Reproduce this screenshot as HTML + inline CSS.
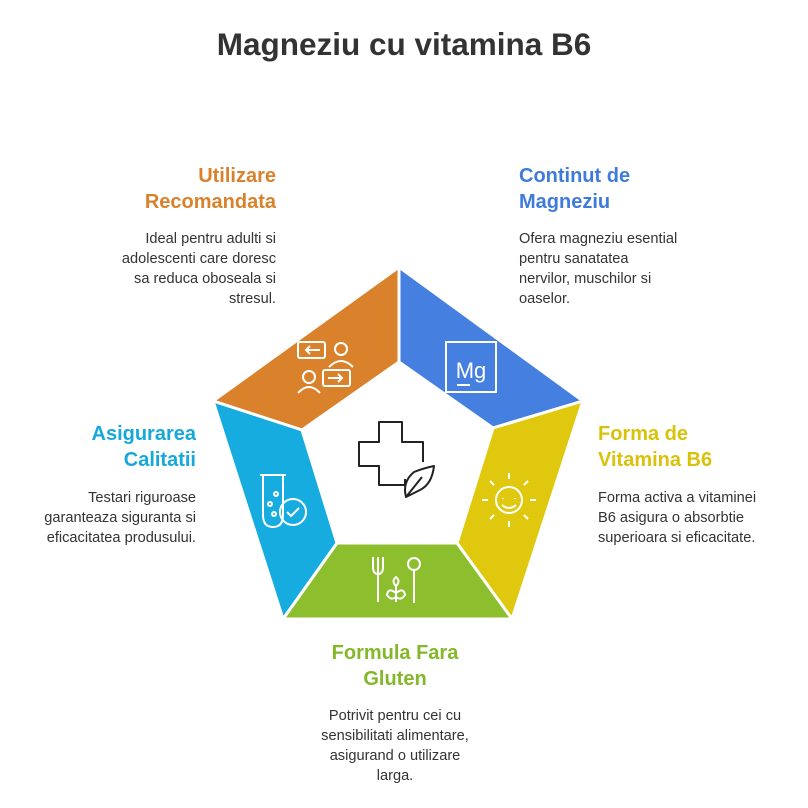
<!DOCTYPE html>
<html><head><meta charset="utf-8"><style>
body{margin:0;width:808px;height:808px;background:#fff;position:relative;font-family:"Liberation Sans",sans-serif;overflow:hidden}
.t{position:absolute;font-weight:bold;font-size:20px;line-height:26px}
.b{position:absolute;font-size:14.6px;line-height:20px;color:#333}
.r{text-align:right}.c{text-align:center}
</style></head><body>
<div style="position:absolute;left:0;width:808px;top:24px;text-align:center;font-size:31.5px;font-weight:bold;color:#333;line-height:40px">Magneziu cu vitamina B6</div>

<div class="t r" style="right:532px;top:163px;color:#D9822B">Utilizare<br>Recomandata</div>
<div class="b r" style="right:532px;top:229px">Ideal pentru adulti si<br>adolescenti care doresc<br>sa reduca oboseala si<br>stresul.</div>

<div class="t" style="left:519px;top:163px;color:#3E7BDA">Continut de<br>Magneziu</div>
<div class="b" style="left:519px;top:229px">Ofera magneziu esential<br>pentru sanatatea<br>nervilor, muschilor si<br>oaselor.</div>

<div class="t r" style="right:612px;top:421px;color:#16A8DD">Asigurarea<br>Calitatii</div>
<div class="b r" style="right:612px;top:488px">Testari riguroase<br>garanteaza siguranta si<br>eficacitatea produsului.</div>

<div class="t" style="left:598px;top:421px;color:#D9C20C">Forma de<br>Vitamina B6</div>
<div class="b" style="left:598px;top:488px">Forma activa a vitaminei<br>B6 asigura o absorbtie<br>superioara si eficacitate.</div>

<div class="t c" style="left:245px;width:300px;top:640px;color:#84B82A">Formula Fara<br>Gluten</div>
<div class="b c" style="left:245px;width:300px;top:706px">Potrivit pentru cei cu<br>sensibilitati alimentare,<br>asigurand o utilizare<br>larga.</div>

<svg width="808" height="808" style="position:absolute;left:0;top:0">
<g stroke="#fff" stroke-width="3" stroke-linejoin="miter">
<polygon points="399,267 213,401 302,430 399,362" fill="#D9822B"/>
<polygon points="399,267 583,401 493,428 399,362" fill="#457FE0"/>
<polygon points="583,401 512,619 457,543 493,428" fill="#E0C80E"/>
<polygon points="512,619 283,619 337,543 457,543" fill="#8DBE2E"/>
<polygon points="283,619 213,401 302,430 337,543" fill="#17ACDF"/>
</g>
<g fill="none" stroke="#fff" stroke-width="2">
<rect x="446" y="342" width="50" height="50"/>
<text x="471" y="378" fill="#fff" stroke="none" font-family="Liberation Sans" font-size="22" text-anchor="middle">Mg</text>
<line x1="457" y1="385" x2="470" y2="385"/>
<rect x="298" y="342" width="27" height="16" rx="2"/><path d="M320 350h-14m4-4l-4 4 4 4"/>
<circle cx="341" cy="349" r="6"/><path d="M329 367q12-12 24 0"/>
<circle cx="309" cy="377" r="6"/><path d="M298 393q11-12 22 0"/>
<rect x="323" y="370" width="27" height="16" rx="2"/><path d="M328 378h14m-4-4l4 4-4 4"/>
<path d="M263 475v40q0 12 10 12t10-12v-40m-23 0h26"/>
<circle cx="276" cy="494" r="2"/><circle cx="270" cy="504" r="2"/><circle cx="274" cy="514" r="2"/>
<circle cx="293" cy="512" r="13"/><path d="M287 512l4 4 8-8"/>
<circle cx="509" cy="500" r="13"/><path d="M503 498v1m12-1v1M502 505q7 6 14 0"/>
<path d="M509 479v-6M509 521v6M488 500h-6M530 500h6M494 485l-4-4M524 485l4-4M494 515l-4 4M524 515l4 4"/>
<path d="M373 557v10q0 7 5 7t5-7v-10M378 557v45"/>
<circle cx="414" cy="564" r="6"/><path d="M414 570v33"/>
<path d="M396 602v-16M396 593q-8-6-9 2q4 6 9 2M396 593q8-6 9 2q-4 6-9 2M396 586q-5-5 0-9q5 4 0 9"/>
</g>
<g fill="none" stroke="#222" stroke-width="2" stroke-linejoin="round">
<path d="M405 479v6h-26v-19h-20v-24h20v-20h23v20h21v20"/>
<path d="M406 497q-4-15 8-25q10-4 20-6q-2 18-14 24q-8 4-14 7zm0 0l16-20"/>
</g>
</svg>
</body></html>
